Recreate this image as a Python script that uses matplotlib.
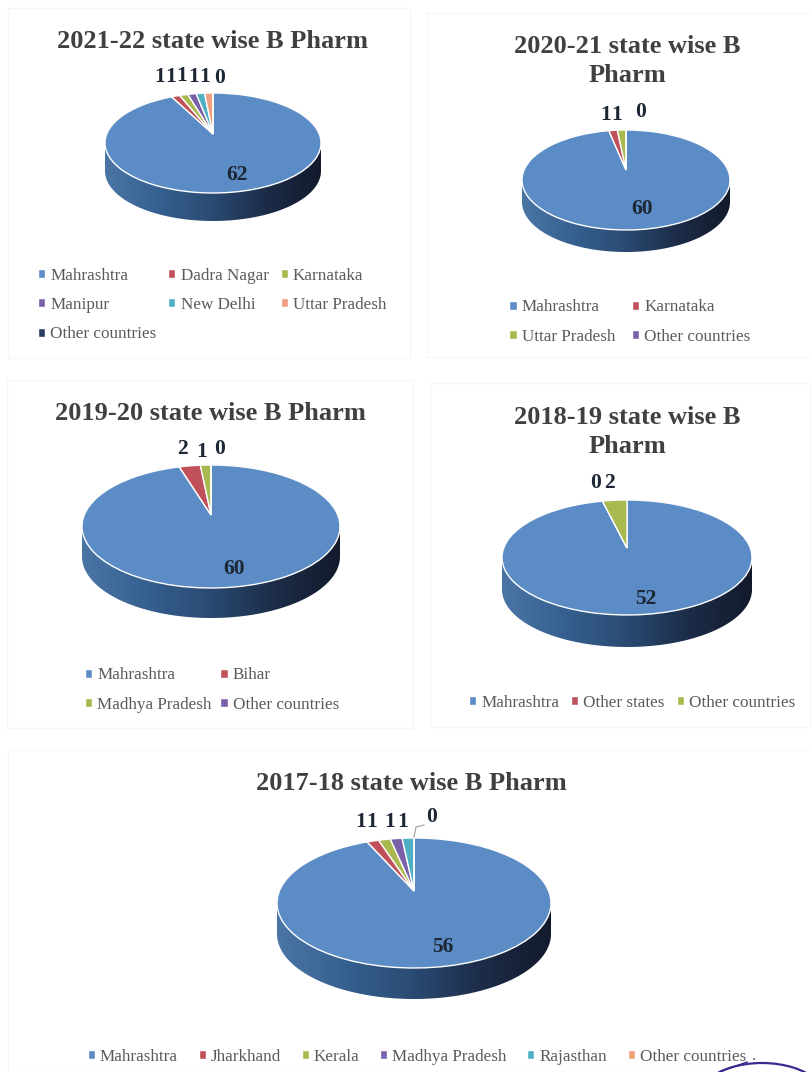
import numpy as np
import matplotlib
matplotlib.use('Agg')
import matplotlib.pyplot as plt
from matplotlib.colors import LinearSegmentedColormap
from matplotlib.patches import Arc, Rectangle
from matplotlib.path import Path
from matplotlib.transforms import Transform

plt.rcParams['font.family'] = ['Liberation Serif', 'DejaVu Serif']

# Data
titles = ['2021-22 state wise B Pharm', '2020-21 state wise B\nPharm', '2019-20 state wise B Pharm',
          '2018-19 state wise B\nPharm', '2017-18 state wise B Pharm']

states_2122 = ['Mahrashtra', 'Dadra Nagar', 'Karnataka', 'Manipur', 'New Delhi', 'Uttar Pradesh', 'Other countries']
values_2122 = [62, 1, 1, 1, 1, 1, 0]
states_2021 = ['Mahrashtra', 'Karnataka', 'Uttar Pradesh', 'Other countries']
values_2021 = [60, 1, 1, 0]
states_1920 = ['Mahrashtra', 'Bihar', 'Madhya Pradesh', 'Other countries']
values_1920 = [60, 2, 1, 0]
states_1819 = ['Mahrashtra', 'Other states', 'Other countries']
values_1819 = [52, 0, 2]
states_1718 = ['Mahrashtra', 'Jharkhand', 'Kerala', 'Madhya Pradesh', 'Rajasthan', 'Other countries']
values_1718 = [56, 1, 1, 1, 1, 0]

all_states = [states_2122, states_2021, states_1920, states_1819, states_1718]
all_values = [values_2122, values_2021, values_1920, values_1819, values_1718]

slice_colors = ['#5b8cc5', '#c0505a', '#a9b84f', '#7a60a8', '#4fb0c4', '#f0a080', '#2a3c60']

# Layout in picture pixels, one entry per chart
panels = [(8, 8, 410, 358), (427, 13, 812, 357), (7, 380, 413, 728), (430, 383, 810, 727), (8, 750, 812, 1072)]
title_xy = [(213, 41), (627, 61), (210, 414), (627, 432), (411, 784)]
# apex x, apex y, half width, top of face, bottom of face, bottom of side wall
pie_geom = [(213, 134, 108, 93, 193, 221),
            (626, 170, 104, 130, 230, 252),
            (211, 515, 129, 465, 588, 618),
            (627, 548, 125, 500, 615, 647),
            (414, 891, 137, 838, 968, 999)]
label_xy = [[(237, 175), (160, 77), (171, 77), (182, 76), (194, 77), (205, 77), (220, 78)],
            [(642, 209), (606, 115), (617, 115), (641, 112)],
            [(234, 569), (182, 449), (202, 452), (220, 449)],
            [(646, 599), (596, 483), (609, 483)],
            [(443, 947), (361, 822), (372, 822), (390, 822), (403, 822), (432, 817)]]
legend_xy = [(212, 305), (630, 322), (212, 690), (632, 703), (417, 1057)]
legend_cols = [3, 2, 2, 3, 6]
legend_gaps = [0.7, 1.0, 0.5, 0.7, 1.2]

wall_cmap = LinearSegmentedColormap.from_list('wall', ['#4a75a5', '#35608f', '#2a4a72', '#1c2c48', '#131a2c'])


class Perspective(Transform):
    # tilts the flat pie so the apex sits above the middle of the ellipse
    input_dims = 2
    output_dims = 2

    def __init__(self, q):
        super().__init__()
        self.q = q

    def transform_non_affine(self, values):
        w = 1 + self.q * values[:, 1]
        return values / w[:, None]


def draw_pie(fig, index):
    x0, y0, half_w, top, bottom, wall = pie_geom[index]
    up = y0 - top
    down = bottom - y0
    q = (down - up) / (down + up)
    sy = up * (1 + q)
    sx = half_w * np.sqrt(1 - q ** 2)

    x_lim = 1.3
    y_hi = 1.2
    y_lo = -(wall - y0) / sy - 0.1
    left = (x0 - x_lim * sx) / 812
    width = 2 * x_lim * sx / 812
    low = 1 - (y0 - y_lo * sy) / 1072
    height = (y_hi - y_lo) * sy / 1072
    ax = fig.add_axes([left, low, width, height])

    wedges, _ = ax.pie(all_values[index], colors=slice_colors, startangle=90, counterclock=False,
                       wedgeprops={'edgecolor': 'white', 'linewidth': 1.0})
    persp = Perspective(q)
    for w in wedges:
        w.set_transform(persp + ax.transData)

    # side wall, outline is the face ellipse with its lower half pushed down
    t = np.linspace(0, 2 * np.pi, 361)
    outline = persp.transform_non_affine(np.column_stack([np.cos(t), np.sin(t)]))
    depth = (wall - bottom) / sy
    low_half = outline[:, 1] < (up - down) / (2 * sy)
    outline[low_half, 1] -= depth
    im = ax.imshow(np.linspace(0, 1, 256)[None, :], cmap=wall_cmap, aspect='auto', zorder=0,
                   extent=(-half_w / sx, half_w / sx, y_lo, y_hi))
    im.set_clip_path(Path(outline, closed=True), ax.transData)

    ax.set_aspect('auto')
    ax.set_xlim(-x_lim, x_lim)
    ax.set_ylim(y_lo, y_hi)
    ax.axis('off')
    return ax, wedges


fig = plt.figure(figsize=(8.12, 10.72), dpi=100, facecolor='white')

for i in range(5):
    ax, wedges = draw_pie(fig, i)

    # matplotlib fills legends by column, the picture reads by row
    n = legend_cols[i]
    names = all_states[i]
    order = [k for c in range(n) for k in range(c, len(names), n)]
    lx, ly = legend_xy[i]
    ax.legend([wedges[k] for k in order], [names[k] for k in order], ncol=n, loc='center',
              bbox_to_anchor=(lx / 812, 1 - ly / 1072), bbox_transform=fig.transFigure,
              frameon=False, prop={'size': 12.3}, labelcolor='#5a5a5a', handlelength=0.42,
              handleheight=0.42, handletextpad=0.3, columnspacing=legend_gaps[i], labelspacing=0.78,
              borderpad=0, borderaxespad=0)

# overlay in picture pixels for frames, titles and value labels
top = fig.add_axes([0, 0, 1, 1], zorder=5)
top.set_xlim(0, 812)
top.set_ylim(1072, 0)
top.axis('off')

for i in range(5):
    x1, y1, x2, y2 = panels[i]
    top.add_patch(Rectangle((x1, y1), x2 - x1, y2 - y1, fill=False, edgecolor='#f6f6f6', linewidth=1))
    tx, ty = title_xy[i]
    top.text(tx, ty, titles[i], ha='center', va='center', fontsize=19, fontweight='bold',
             color='#404040', linespacing=1.3)
    for value, (vx, vy) in zip(all_values[i], label_xy[i]):
        top.text(vx, vy, str(value), ha='center', va='center', fontsize=15.5, fontweight='bold', color='#1d2635')

# leader line of the 0 label and the scan leftovers bottom right
top.plot([414, 416, 424], [837, 827, 825], color='#a0a0a0', linewidth=0.8)
top.text(754, 1060, '.', ha='center', va='baseline', fontsize=12, color='#5a5a5a')
top.add_patch(Arc((762, 1100), 130, 74, theta1=200, theta2=340, color='#3a2a90', linewidth=1.6))
top.plot([722, 747], [1071, 1062], color='#3a2a90', linewidth=1.0)

fig.savefig('out.png', dpi=100)
